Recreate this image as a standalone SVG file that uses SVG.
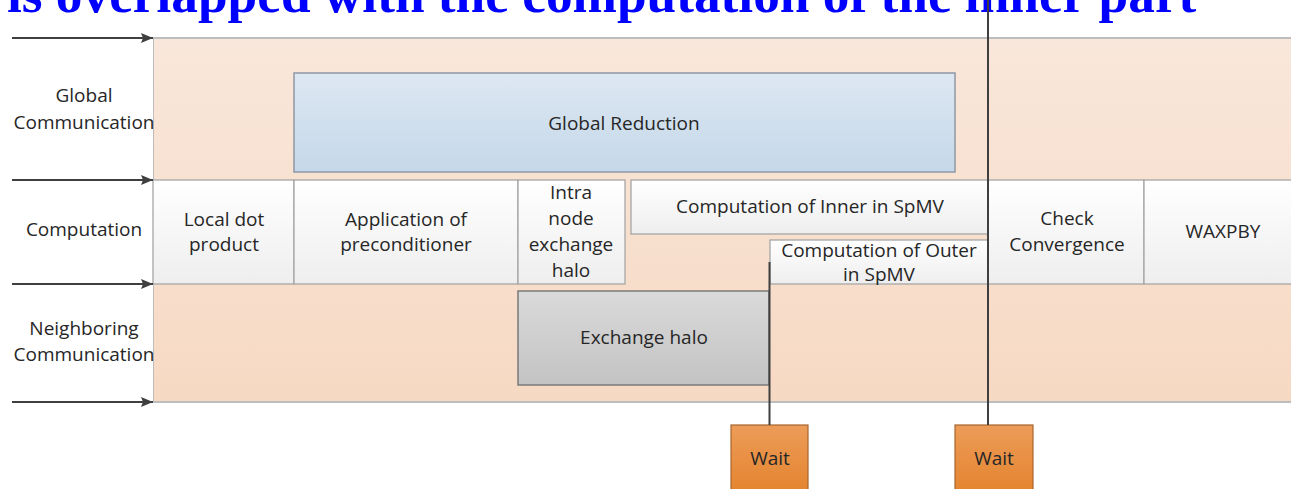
<svg xmlns="http://www.w3.org/2000/svg" width="1291" height="489" viewBox="0 0 1291 489">
<defs>
<linearGradient id="gLane" x1="0" y1="0" x2="0" y2="1">
<stop offset="0" stop-color="#F9E7DB"/>
<stop offset="1" stop-color="#F6D9C3"/>
</linearGradient>
<linearGradient id="gComp" x1="0" y1="0" x2="0" y2="1">
<stop offset="0" stop-color="#FFFFFF"/>
<stop offset="1" stop-color="#EEEEEE"/>
</linearGradient>
<linearGradient id="gBlue" x1="0" y1="0" x2="0" y2="1">
<stop offset="0" stop-color="#DDE7F2"/>
<stop offset="1" stop-color="#C5D8E9"/>
</linearGradient>
<linearGradient id="gGray" x1="0" y1="0" x2="0" y2="1">
<stop offset="0" stop-color="#DADADA"/>
<stop offset="1" stop-color="#C3C3C3"/>
</linearGradient>
<linearGradient id="gOrange" x1="0" y1="0" x2="0" y2="1">
<stop offset="0" stop-color="#EC9C59"/>
<stop offset="1" stop-color="#E4832D"/>
</linearGradient>
<marker id="arr" viewBox="0 0 12 10" refX="12" refY="5" markerWidth="12" markerHeight="10" orient="auto" markerUnits="userSpaceOnUse">
<path d="M0,0 L12,5 L0,10 L2,5 z" fill="#3F3F3F"/>
</marker>
</defs>
<style>
text{font-family:"Open Sans","Liberation Sans",sans-serif;font-size:19px;fill:#262626;text-anchor:middle}
.title{font-family:"Liberation Serif","Times New Roman",serif;font-size:53.3px;font-weight:bold;fill:#0000FF;text-anchor:start}
.comp{fill:url(#gComp);stroke:#A6A6A6;stroke-width:1.3}
.conn{stroke:#3F3F3F;stroke-width:2;fill:none}
</style>
<rect width="1291" height="489" fill="#FFFFFF"/>
<text class="title" x="7" y="12">is overlapped with the computation of the inner part</text>
<g id="lanes">
<rect x="153" y="38" width="1140" height="364" fill="url(#gLane)"/>
<line x1="153" y1="38" x2="1291" y2="38" stroke="#BDBDBD" stroke-width="2"/>
<line x1="153" y1="402" x2="1291" y2="402" stroke="#BDBDBD" stroke-width="2"/>
<line x1="153.5" y1="38" x2="153.5" y2="402" stroke="#BDBDBD" stroke-width="1"/>
</g>
<g id="label-global"><text x="84" y="102">Global</text><text x="84" y="129">Communication</text></g>
<g id="label-computation"><text x="84" y="236">Computation</text></g>
<g id="label-neighboring"><text x="84" y="335">Neighboring</text><text x="84" y="361">Communication</text></g>
<g id="global-reduction">
<rect x="294" y="73" width="661" height="99" fill="url(#gBlue)" stroke="#8E98A4" stroke-width="1.5"/>
<text x="624" y="130">Global Reduction</text>
</g>
<g id="local-dot">
<rect class="comp" x="153" y="180" width="141" height="104"/>
<text x="224" y="226">Local dot</text><text x="224" y="251">product</text>
</g>
<g id="precond">
<rect class="comp" x="294" y="180" width="224" height="104"/>
<text x="406" y="226">Application of</text><text x="406" y="251">preconditioner</text>
</g>
<g id="intra">
<rect class="comp" x="518" y="180" width="107" height="104"/>
<text x="571" y="199">Intra</text><text x="571" y="225">node</text><text x="571" y="251">exchange</text><text x="571" y="277">halo</text>
</g>
<g id="inner">
<rect class="comp" x="631" y="180" width="357" height="54"/>
<text x="810" y="213">Computation of Inner in SpMV</text>
</g>
<g id="outer">
<rect class="comp" x="770" y="240" width="218" height="44"/>
<text x="879" y="257">Computation of Outer</text><text x="879" y="281">in SpMV</text>
</g>
<g id="check">
<rect class="comp" x="988" y="180" width="156" height="104"/>
<text x="1067" y="225">Check</text><text x="1067" y="251">Convergence</text>
</g>
<g id="waxpby">
<rect class="comp" x="1144" y="180" width="150" height="104"/>
<text x="1223" y="238">WAXPBY</text>
</g>
<g id="exchange-halo">
<rect x="518" y="291" width="251" height="94" fill="url(#gGray)" stroke="#7A7A7A" stroke-width="1.5"/>
<text x="644" y="344">Exchange halo</text>
</g>
<g id="wait1">
<rect x="731" y="425" width="77" height="70" fill="url(#gOrange)" stroke="#A8652E" stroke-width="1.2"/>
<text x="770" y="465">Wait</text>
</g>
<g id="wait2">
<rect x="955" y="425" width="78" height="70" fill="url(#gOrange)" stroke="#A8652E" stroke-width="1.2"/>
<text x="994" y="465">Wait</text>
</g>
<g id="connectors">
<line class="conn" x1="12" y1="38" x2="153" y2="38" marker-end="url(#arr)"/>
<line class="conn" x1="12" y1="180" x2="153" y2="180" marker-end="url(#arr)"/>
<line class="conn" x1="12" y1="284" x2="153" y2="284" marker-end="url(#arr)"/>
<line class="conn" x1="12" y1="402" x2="153" y2="402" marker-end="url(#arr)"/>
<line class="conn" x1="769.5" y1="262" x2="769.5" y2="425"/>
<line class="conn" x1="988" y1="0" x2="988" y2="425"/>
</g>
</svg>
